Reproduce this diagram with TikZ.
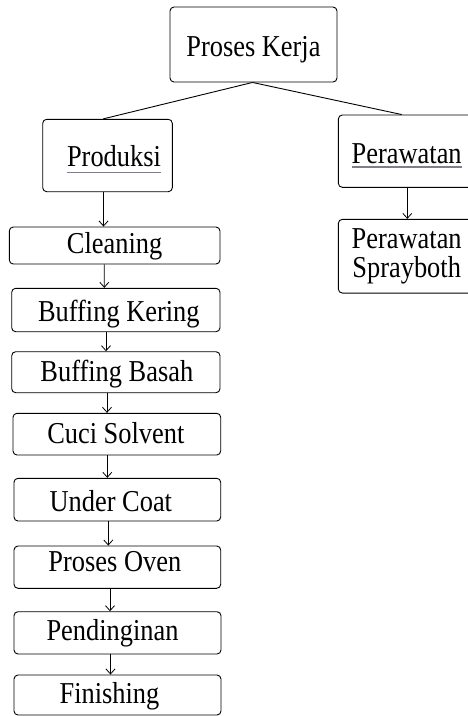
\documentclass[tikz,border=0pt]{standalone}
\usepackage{graphicx}
\usepackage{fontspec}
\setmainfont{Liberation Serif}
\usetikzlibrary{arrows.meta}
\definecolor{ulgray}{RGB}{125,128,135}
\newcommand\tx[2][0pt]{\makebox[0pt]{\hspace*{#1}\scalebox{1}[1.15]{#2}}}
\newcommand\gul[2]{\setbox0\hbox{#2}\rlap{\color{ulgray}\rule[#1]{\wd0}{1.3pt}}\box0}
\begin{document}
\begin{tikzpicture}[x=1pt,y=1pt,
  box/.style={draw, rounded corners=4pt, inner sep=0pt, anchor=base, line width=0.9pt,
    font=\fontsize{26.4}{29}\selectfont},
  arr/.style={-{Straight Barb[length=5pt,width=9pt]}, line width=0.8pt},
  ln/.style={line width=0.9pt}]
\useasboundingbox (0,0) rectangle (467,-716);
% top
\node[box, minimum width=167pt, text height=49.7pt, text depth=25.3pt] (pk) at (253.5,-56.7) {\tx{Proses Kerja}};
\node[box, minimum width=129.6pt, text height=47.4pt, text depth=25pt] (prod) at (107.5,-166.7) {\tx[13pt]{\gul{-5.7pt}{Produksi}}};
\node[box, minimum width=136.7pt, text height=48.3pt, text depth=24pt] (pera) at (406.7,-163.3) {\tx{\gul{-3.8pt}{Perawatan}}};
\node[box, anchor=center, minimum width=136.7pt, minimum height=73.7pt, align=center] (spr) at (406.7,-256.2) {\tx{Perawatan}\\\tx{Sprayboth}};
% left column
\node[box, minimum width=210.7pt, text height=26.3pt, text depth=10.7pt] (cl) at (114.65,-253.3) {\tx{Cleaning}};
\node[box, minimum width=208.3pt, text height=33.4pt, text depth=10pt] (bk) at (115.85,-321.7) {\tx[6pt]{Buffing Kering}};
\node[box, minimum width=208.3pt, text height=30pt, text depth=11pt] (bb) at (115.85,-381.7) {\tx[2pt]{Buffing Basah}};
\node[box, minimum width=207.7pt, text height=30pt, text depth=11.7pt] (cs) at (116.85,-443.3) {\tx[-2pt]{Cuci Solvent}};
\node[box, minimum width=206.7pt, text height=33.4pt, text depth=9.3pt] (uc) at (117.35,-511.7) {\tx[-13pt]{Under Coat}};
\node[box, minimum width=206.7pt, text height=25.7pt, text depth=16.6pt] (po) at (117.35,-571.7) {\tx[-5pt]{Proses Oven}};
\node[box, minimum width=207pt, text height=28.3pt, text depth=14pt] (pd) at (117.5,-640) {\tx[-10pt]{Pendinginan}};
\node[box, minimum width=207pt, text height=28pt, text depth=12pt] (fi) at (117.5,-703) {\tx[-16pt]{Finishing}};
% connectors
\draw[ln] ([xshift=-1pt]pk.south) -- ([xshift=-4.2pt]prod.north);
\draw[ln] ([xshift=-1pt]pk.south) -- ([xshift=-5pt]pera.north);
\draw[arr] ([xshift=0.6pt]pera.south) -- ([xshift=0.6pt]spr.north);
\draw[arr] ([xshift=-4pt]prod.south) -- ([xshift=-11.15pt]cl.north);
\draw[arr] ([xshift=-10.35pt]cl.south) -- ([xshift=-11.55pt]bk.north);
\draw[arr] ([xshift=-9.85pt]bk.south) -- ([xshift=-9.85pt]bb.north);
\draw[arr] ([xshift=-8.85pt]bb.south) -- ([xshift=-9.85pt]cs.north);
\draw[arr] ([xshift=-9.55pt]cs.south) -- ([xshift=-10.05pt]uc.north);
\draw[arr] ([xshift=-9.05pt]uc.south) -- ([xshift=-9.05pt]po.north);
\draw[arr] ([xshift=-7.35pt]po.south) -- ([xshift=-7.5pt]pd.north);
\draw[arr] ([xshift=-7pt]pd.south) -- ([xshift=-7pt]fi.north);
\end{tikzpicture}
\end{document}
